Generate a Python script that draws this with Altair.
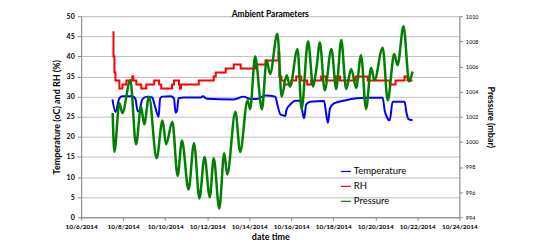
import altair as alt
import pandas as pd

# ---- Temperature (oC), left axis ----
temp_time = [
    "2014-10-07T11:45", "2014-10-07T15:10", "2014-10-07T19:40", "2014-10-07T23:05",
    "2014-10-08T10:25", "2014-10-08T13:50", "2014-10-08T16:45", "2014-10-08T18:25",
    "2014-10-08T21:50", "2014-10-09T03:25", "2014-10-09T09:05", "2014-10-09T12:30",
    "2014-10-09T16:30", "2014-10-09T18:10", "2014-10-09T20:25", "2014-10-10T06:40",
    "2014-10-10T10:05", "2014-10-10T11:50", "2014-10-10T13:30", "2014-10-10T15:10",
    "2014-10-10T21:25", "2014-10-11T16:45", "2014-10-11T19:00", "2014-10-11T23:30",
    "2014-10-13T06:15", "2014-10-13T17:30", "2014-10-14T01:30", "2014-10-14T08:20",
    "2014-10-14T18:30", "2014-10-15T05:50", "2014-10-15T08:10", "2014-10-15T11:30",
    "2014-10-15T14:55", "2014-10-15T17:15", "2014-10-15T18:20", "2014-10-15T23:55",
    "2014-10-16T04:30", "2014-10-16T10:15", "2014-10-16T12:30", "2014-10-16T14:40",
    "2014-10-16T17:00", "2014-10-16T21:35", "2014-10-17T13:30", "2014-10-17T15:40",
    "2014-10-17T17:50", "2014-10-17T20:10", "2014-10-18T00:45", "2014-10-18T14:25",
    "2014-10-19T13:05", "2014-10-20T08:25", "2014-10-20T10:45", "2014-10-20T13:00",
    "2014-10-20T16:25", "2014-10-20T19:45", "2014-10-21T09:25", "2014-10-21T11:35",
    "2014-10-21T13:50", "2014-10-21T18:30",
]
temp_val = [
    29.3, 26.2, 29.6, 30.1,
    30.1, 29.5, 26.3, 26.5,
    29.3, 30.0, 29.8, 27.5,
    25.0, 29.5, 30.0, 30.1,
    29.5, 26.0, 26.5, 29.6,
    29.8, 29.8, 30.1, 29.5,
    29.3, 30.0, 29.4, 29.4,
    30.3, 30.0, 28.0, 25.6,
    25.3, 25.2, 26.6, 28.3,
    29.0, 29.0, 26.5, 24.6,
    28.0, 28.7, 28.9, 26.0,
    23.5, 27.0, 28.3, 29.1,
    29.7, 29.7, 26.5, 25.0,
    24.1, 28.7, 28.7, 26.0,
    24.4, 24.1,
]

# ---- RH (%), left axis ----
rh_time = [
    "2014-10-07T11:45", "2014-10-07T12:55", "2014-10-07T14:00", "2014-10-07T15:10",
    "2014-10-07T19:40", "2014-10-07T23:05", "2014-10-08T03:40", "2014-10-08T10:25",
    "2014-10-08T11:35", "2014-10-08T15:00", "2014-10-08T20:40", "2014-10-09T02:20",
    "2014-10-09T11:30", "2014-10-09T17:00", "2014-10-09T19:25", "2014-10-10T07:50",
    "2014-10-10T10:05", "2014-10-10T15:45", "2014-10-10T16:55", "2014-10-10T18:05",
    "2014-10-11T14:25", "2014-10-12T07:25", "2014-10-12T09:45", "2014-10-12T21:05",
    "2014-10-13T06:15", "2014-10-13T14:10", "2014-10-14T07:10", "2014-10-14T18:30",
    "2014-10-15T09:20", "2014-10-15T10:20", "2014-10-15T12:40", "2014-10-15T16:05",
    "2014-10-15T23:55", "2014-10-16T05:40", "2014-10-16T11:20", "2014-10-16T18:10",
    "2014-10-16T22:45", "2014-10-17T10:05", "2014-10-17T15:40", "2014-10-18T03:05",
    "2014-10-18T07:40", "2014-10-19T01:40", "2014-10-19T15:20", "2014-10-20T16:25",
    "2014-10-20T23:05", "2014-10-21T09:25", "2014-10-21T12:45", "2014-10-21T18:30",
]
rh_val = [
    46, 40, 36, 34,
    32, 33, 34, 35,
    34, 33, 32, 33,
    34, 33, 32, 33,
    34, 33, 32, 33,
    34, 35, 36, 37,
    38, 37, 38, 39,
    41, 35, 34, 33,
    34, 35, 34, 33,
    34, 35, 34, 35,
    34, 35, 34, 33,
    34, 35, 34, 34,
]

# ---- Pressure (mbar), right axis ----
pres_time = [
    "2014-10-07T12:00", "2014-10-07T13:55", "2014-10-07T19:40", "2014-10-07T23:00",
    "2014-10-08T08:10", "2014-10-08T14:40", "2014-10-08T20:25", "2014-10-09T00:00",
    "2014-10-09T05:30", "2014-10-09T14:10", "2014-10-09T20:55", "2014-10-10T01:00",
    "2014-10-10T08:10", "2014-10-10T14:10", "2014-10-10T19:10", "2014-10-11T02:40",
    "2014-10-11T08:55", "2014-10-11T15:05", "2014-10-11T20:55", "2014-10-12T02:55",
    "2014-10-12T07:25", "2014-10-12T13:45", "2014-10-12T19:25", "2014-10-12T22:50",
    "2014-10-13T08:10", "2014-10-13T13:40", "2014-10-13T22:00", "2014-10-14T01:00",
    "2014-10-14T06:45", "2014-10-14T14:25", "2014-10-14T19:55", "2014-10-14T23:45",
    "2014-10-15T08:10", "2014-10-15T13:00", "2014-10-15T18:45", "2014-10-15T22:35",
    "2014-10-16T07:10", "2014-10-16T11:45", "2014-10-16T19:10", "2014-10-17T01:00",
    "2014-10-17T04:50", "2014-10-17T08:40", "2014-10-17T14:10", "2014-10-17T21:50",
    "2014-10-18T03:20", "2014-10-18T09:05", "2014-10-18T14:40", "2014-10-18T20:25",
    "2014-10-19T02:10", "2014-10-19T07:40", "2014-10-19T13:25", "2014-10-19T19:10",
    "2014-10-19T23:00", "2014-10-20T08:25", "2014-10-20T14:10", "2014-10-20T21:35",
    "2014-10-21T01:25", "2014-10-21T08:10", "2014-10-21T14:40", "2014-10-21T18:30",
]
pres_val = [
    1002.3, 999.2, 1003.1, 1002.3,
    1004.9, 999.8, 1002.8, 1001.4,
    1003.6, 998.7, 1001.7, 999.8,
    1001.6, 997.3, 1000.1, 996.2,
    999.9, 995.5, 998.8, 995.6,
    998.7, 994.7, 999.1, 997.4,
    1002.4, 999.2, 1003.3, 1002.6,
    1006.8, 1002.6, 1006.5, 1005.4,
    1008.6, 1003.6, 1005.3, 1004.4,
    1007.4, 1002.6, 1008.0, 1004.4,
    1005.9, 1007.9, 1004.1, 1007.4,
    1004.2, 1008.1, 1004.2, 1005.8,
    1004.3, 1006.9, 1002.6, 1005.9,
    1004.9, 1007.5, 1003.3, 1007.0,
    1006.1, 1009.2, 1004.8, 1005.6,
]

series_names = ["Temperature", "RH", "Pressure"]
series_colors = ["#0000FF", "#FF0000", "#008000"]
left_ticks = [0, 5, 10, 15, 20, 25, 30, 35, 40, 45, 50]
right_ticks = [994, 996, 998, 1000, 1002, 1004, 1006, 1008, 1010]
x_tick_days = [6, 8, 10, 12, 14, 16, 18, 20, 22, 24]

FONT = "Lato"

temp_df = pd.DataFrame({"time": temp_time, "value": temp_val, "series": "Temperature"})
rh_df = pd.DataFrame({"time": rh_time, "value": rh_val, "series": "RH"})
pres_df = pd.DataFrame({"time": pres_time, "value": pres_val, "series": "Pressure"})

x_enc = alt.X(
    "time:T",
    scale=alt.Scale(domain=[alt.DateTime(year=2014, month=10, date=6),
                            alt.DateTime(year=2014, month=10, date=24)]),
    axis=alt.Axis(
        values=[alt.DateTime(year=2014, month=10, date=d) for d in x_tick_days],
        format="%-m/%-d/%Y", formatType="time", grid=False,
        labelOverlap=False, labelFlush=False,
        title="date time", titleFontSize=9, titleFontWeight="bold", titleFont=FONT,
        titleColor="#000000", titlePadding=3,
        labelFontSize=6.5, labelFont=FONT, labelFontWeight="bold",
        labelColor="#000000", labelPadding=3,
        tickSize=3, tickColor="#868686", domainColor="#868686",
    ),
)

color_enc = alt.Color(
    "series:N",
    scale=alt.Scale(domain=series_names, range=series_colors),
    legend=alt.Legend(
        title=None, orient="none", legendX=260, legendY=150,
        symbolType="stroke", symbolSize=100, symbolStrokeWidth=1.2,
        labelFontSize=9.5, labelFont=FONT, labelColor="#000000",
        rowPadding=4, labelOffset=2, padding=0,
    ),
)

y_left = alt.Y(
    "value:Q",
    scale=alt.Scale(domain=[0, 50], nice=False),
    axis=alt.Axis(
        values=left_ticks, title="Temperature (oC) and RH (%)",
        titleFontSize=9, titleFontWeight="bold", titleFont=FONT, titleColor="#000000",
        titlePadding=5, labelFontSize=7, labelFont=FONT, labelFontWeight="bold",
        labelColor="#000000",
        labelPadding=3, tickSize=4, tickColor="#868686", domainColor="#868686",
        grid=True, gridColor="#bfbfbf", gridWidth=1,
    ),
)

temp_line = alt.Chart(temp_df).mark_line(strokeWidth=2, interpolate="monotone").encode(
    x=x_enc, y=y_left, color=color_enc
)
rh_line = alt.Chart(rh_df).mark_line(strokeWidth=2, interpolate="step-after").encode(
    x=x_enc, y=y_left, color=color_enc
)
left = alt.layer(temp_line, rh_line)

pres_line = alt.Chart(pres_df).mark_line(strokeWidth=2.5, interpolate="monotone").encode(
    x=x_enc,
    y=alt.Y(
        "value:Q",
        scale=alt.Scale(domain=[994, 1010], nice=False),
        axis=alt.Axis(
            orient="right", values=right_ticks, format="d", title="Pressure (mbar)",
            titleFontSize=9, titleFontWeight="bold", titleFont=FONT, titleColor="#000000",
            titlePadding=8, labelFontSize=5.5, labelFont=FONT, labelColor="#000000",
            labelPadding=3, tickSize=3, tickColor="#868686", domainColor="#868686",
            grid=False,
        ),
    ),
    color=color_enc,
)

chart = (
    alt.layer(left, pres_line)
    .resolve_scale(y="independent")
    .properties(
        width=380, height=202,
        title=alt.TitleParams("Ambient Parameters", fontSize=8.5, font=FONT,
                              fontWeight="bold", color="#000000", offset=-6.5, anchor="middle"),
        autosize=alt.AutoSizeParams(type="none"),
        padding={"left": 73.5, "top": 7.7, "right": 80, "bottom": 25},
    )
    .configure_view(stroke=None)
    .configure(background="#ffffff")
)

chart.save("out.html", embed_options={"renderer": "svg", "actions": False})
